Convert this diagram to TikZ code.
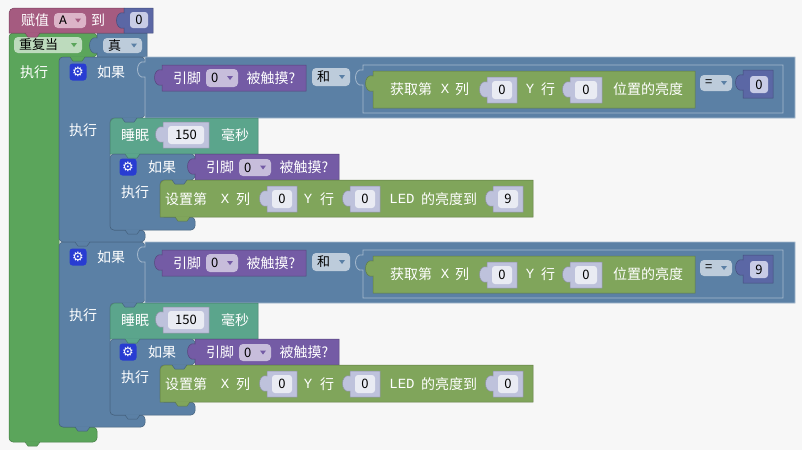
\documentclass[tikz,border=0pt]{standalone}
\usepackage{fontspec}
\setmainfont{Noto Sans CJK SC}
\setmonofont{Liberation Mono}
\newfontfamily\symfont{DejaVu Sans}

\definecolor{bgc}{HTML}{F7F7F7}
\definecolor{varc}{HTML}{A55B80}
\definecolor{varf}{HTML}{DCB4C8}
\definecolor{mathc}{HTML}{5B67A5}
\definecolor{mathf}{HTML}{C8CCE6}
\definecolor{loopc}{HTML}{5BA55B}
\definecolor{loopf}{HTML}{BDDBBD}
\definecolor{logicc}{HTML}{5B80A5}
\definecolor{logicf}{HTML}{BDCCDB}
\definecolor{pinc}{HTML}{745BA5}
\definecolor{pinf}{HTML}{C7BDDB}
\definecolor{sleepc}{HTML}{5BA58C}
\definecolor{ledc}{HTML}{80A55B}
\definecolor{shadowc}{HTML}{BEC2DC}
\definecolor{fieldc}{HTML}{E9EBF3}
\definecolor{gearc}{HTML}{283CD2}

% value block with output tab on the left
\newcommand{\valblk}[5]{%
  \draw[#5] (#1,#2) -- ({#1+#3},#2) -- ({#1+#3},{#2+#4}) -- (#1,{#2+#4}) -- (#1,{#2+20})
    .. controls ({#1-10},{#2+23}) and ({#1-10},{#2+2}) .. (#1,{#2+5}) -- cycle;}
% shadow number field
\newcommand{\numfield}[5]{%
  \valblk{#2}{#3}{#4}{26}{blk=shadowc}
  \fill[fieldc, rounded corners=3] ({#2+5},{#3+4}) rectangle ({#2+#4-5},{#3+22});
  \node[bt] (#1) at ({#2+#4/2},{#3+13}) {#5};}
% dropdown field
\newcommand{\ddown}[8]{%
  \fill[#6, rounded corners=4] (#2,#3) rectangle (#4,#5);
  \node[bt, anchor=west] (#1) at ({#2+5},{(#3+#5)/2}) {#8};
  \fill[#7] ({#4-11},{(#3+#5)/2-2}) -- ++(6,0) -- ++(-3,4) -- cycle;}
% bottom connection tab
\newcommand{\tabdn}[3]{%
  \fill[#3] (#1,{#2-0.6}) -- ({#1+3},{#2+4}) -- ({#1+12},{#2+4}) -- ({#1+15},{#2-0.6}) -- cycle;
  \draw[#3!75!black, line width=0.5pt] (#1,#2) -- ({#1+3},{#2+4}) -- ({#1+12},{#2+4}) -- ({#1+15},#2);}
\newcommand{\gearicon}[3]{\node[gearbox] (#1) at (#2,#3) {⚙};}

% one "if" section with its nested blocks
\newcommand{\ruguosec}[3]{%
  % outer if
  \draw[blk=logicc, rounded corners=4] (59,57) -- (145,57) -- (145,118) -- (110,118) -- (110,230)
    -- (145,230) -- (145,242) -- (59,242) -- cycle;
  \gearicon{gear#1}{78}{72}
  \node[wt] (ruguo#1) at (111,72) {如果};
  \node[wt] (zhixing#1) at (83,130) {执行};
  % and
  \valblk{145}{57}{650}{61}{outl=logicc}
  \valblk{162}{65}{144}{26}{blk=pinc}
  \node[wt] (yinjiao#1) at (187,78) {引脚};
  \ddown{pin#1}{206}{69}{238}{87}{pinf}{pinc}{0}
  \node[wt] (chumo#1) at (271,78) {被触摸?};
  \ddown{he#1}{312}{68}{350}{86}{logicf}{logicc}{和}
  % compare
  \valblk{363}{65}{420}{48}{outl=logicc}
  \valblk{373}{71}{322}{37}{blk=ledc}
  \node[wt] (huoqu#1) at (411,89) {获取第};
  \node[mono] (gx#1) at (445,89) {X};
  \node[wt] (lie#1) at (462,89) {列};
  \numfield{gxv#1}{487}{77}{30}{0}
  \node[mono] (gy#1) at (530,89) {Y};
  \node[wt] (hang#1) at (548,89) {行};
  \numfield{gyv#1}{570}{77}{32}{0}
  \node[wt] (liangdu#1) at (648,89) {位置的亮度};
  \ddown{eq#1}{700}{75}{732}{91}{logicf}{logicc}{=}
  \valblk{743}{70}{30}{28}{blk=mathc}
  \fill[mathf, rounded corners=3] (750,76) rectangle (768,93);
  \node[bt] (cmp#1) at (759,84.5) {#2};
  % sleep
  \draw[blk=sleepc] (110,130) [rounded corners=5] -- (110,118) -- (150,118) [sharp corners]
    -- (258,118) -- (258,154) -- (110,154) -- cycle;
  \node[wt] (shuimian#1) at (135,135) {睡眠};
  \numfield{ms#1}{163}{122}{46}{150}
  \node[wt] (haomiao#1) at (235,135) {毫秒};
  % inner if
  \draw[blk=logicc, rounded corners=4] (110,154) -- (195,154) -- (195,180) -- (160,180) -- (160,217)
    -- (195,217) -- (195,230) -- (110,230) -- cycle;
  \gearicon{gearb#1}{128}{167}
  \node[wt] (ruguob#1) at (162,167) {如果};
  \valblk{195}{154}{144}{26}{blk=pinc}
  \node[wt] (yinjiaob#1) at (220,167) {引脚};
  \ddown{pinb#1}{239}{159}{271}{176}{pinf}{pinc}{0}
  \node[wt] (chumob#1) at (304,167) {被触摸?};
  \node[wt] (zhixingb#1) at (135,192) {执行};
  % set led
  \draw[blk=ledc] (160,192) [rounded corners=5] -- (160,180) -- (200,180) [sharp corners]
    -- (533,180) -- (533,217) -- (160,217) -- cycle;
  \node[wt] (shezhi#1) at (186,199) {设置第};
  \node[mono] (sx#1) at (225,199) {X};
  \node[wt] (slie#1) at (243,199) {列};
  \numfield{sxv#1}{267}{186}{30}{0}
  \node[mono] (sy#1) at (308,199) {Y};
  \node[wt] (shang#1) at (327,199) {行};
  \numfield{syv#1}{350}{186}{30}{0}
  \node[mono] (led#1) at (402,199) {LED};
  \node[wt] (dao#1) at (449,199) {的亮度到};
  \numfield{lv#1}{493}{186}{30}{#3}
  % tabs
  \tabdn{122}{118}{logicc}
  \tabdn{125}{154}{sleepc}
  \tabdn{172}{180}{logicc}
  \tabdn{175}{217}{ledc}
  \tabdn{125}{230}{logicc}}

\begin{document}
\begin{tikzpicture}[x=1pt,y=-1pt,
  blk/.style={fill=#1, draw=#1!75!black, line width=0.5pt},
  outl/.style={fill=#1, draw=#1!55!white, line width=0.8pt},
  wt/.style={text=white, inner sep=0, font=\fontsize{14}{14}\selectfont},
  bt/.style={text=black, inner sep=0, font=\fontsize{13}{13}\selectfont},
  mono/.style={text=white, inner sep=0, font=\ttfamily\fontsize{14}{14}\selectfont},
  gearbox/.style={fill=gearc, rounded corners=3, minimum size=17pt, inner sep=0, text=white,
    font=\symfont\fontsize{13}{13}\selectfont}]
\fill[bgc] (0,0) rectangle (802,450);
\useasboundingbox (0,0) rectangle (802,450);

% repeat while
\draw[blk=loopc, rounded corners=4] (9,33) -- (97,33) -- (97,57) -- (59,57) -- (59,427)
  -- (97,427) -- (97,442) -- (9,442) -- cycle;
\ddown{loopdd}{14}{37}{82}{53}{loopf}{loopc}{重复当}
\node[wt] (loopzx) at (34,72) {执行};
\valblk{97}{33}{50}{24}{blk=logicc}
\ddown{zhen}{103}{38}{142}{53}{logicf}{logicc}{真}

% set variable
\draw[blk=varc] (9,20) [rounded corners=5] -- (9,8) -- (40,8) [sharp corners] -- (124,8)
  -- (124,33) -- (9,33) -- cycle;
\node[wt] (fuzhi) at (35,20) {赋值};
\ddown{varA}{54}{13}{86}{28}{varf}{varc}{\ttfamily A}
\node[wt] (dao) at (98,20) {到};
\valblk{124}{8}{29}{25}{blk=mathc}
\fill[mathf, rounded corners=3] (130,12) rectangle (148,28);
\node[bt] (initv) at (139,20) {0};

\ruguosec{a}{0}{9}
\begin{scope}[yshift=-185pt]
\ruguosec{b}{9}{0}
\end{scope}

\tabdn{25}{33}{varc}
\tabdn{70}{57}{loopc}
\tabdn{75}{242}{logicc}
\tabdn{75}{427}{logicc}
\tabdn{25}{442}{loopc}
\end{tikzpicture}
\end{document}
